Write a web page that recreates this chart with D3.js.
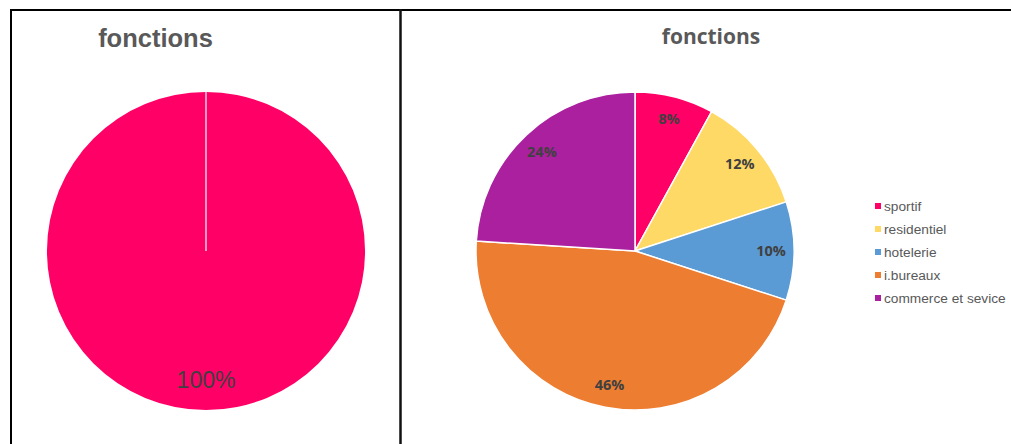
<!DOCTYPE html>
<html><head><meta charset="utf-8">
<script src="https://cdn.jsdelivr.net/npm/d3@7"></script>
<style>body{margin:0;background:#fff;}svg{display:block;}</style>
</head><body>
<script>
const titleLeft = "fonctions";
const titleRight = "fonctions";
const leftCategories = ["fonctions"];
const leftValues = [100];
const categories = ["sportif", "residentiel", "hotelerie", "i.bureaux", "commerce et sevice"];
const values = [8, 12, 10, 46, 24];
const colors = ["#FF0066", "#FFD966", "#5B9BD5", "#ED7D31", "#AB209F"];

const W = 1011, H = 444;
const svg = d3.select("body").append("svg").attr("width", W).attr("height", H);

// frames
svg.append("line").attr("x1", 10).attr("x2", W).attr("y1", 10).attr("y2", 10).attr("stroke", "#000").attr("stroke-width", 2);
svg.append("line").attr("x1", 11).attr("x2", 11).attr("y1", 9).attr("y2", H).attr("stroke", "#000").attr("stroke-width", 2);
svg.append("line").attr("x1", 400.5).attr("x2", 400.5).attr("y1", 9).attr("y2", H).attr("stroke", "#111").attr("stroke-width", 2.5);

// left pie
const total = d3.sum(leftValues);
const gL = svg.append("g").attr("transform", "translate(206,251)");
const rL = 159;
const pieL = d3.pie().sort(null).value(d => d);
const arcL = d3.arc().innerRadius(0).outerRadius(rL);
gL.selectAll("path").data(pieL(leftValues)).join("path").attr("d", arcL).attr("fill", "#FF0066");
gL.append("line").attr("x1", 0).attr("x2", 0).attr("y1", -rL).attr("y2", 0).attr("stroke", "#fff").attr("stroke-width", 1.5).attr("opacity", 0.8);
gL.append("text").attr("x", 0).attr("y", 129).attr("dy", "0.35em").attr("text-anchor", "middle")
  .attr("font-family", "Liberation Sans, Arial, sans-serif").attr("font-size", 23).attr("fill", "#404040")
  .text(Math.round(leftValues[0] / total * 100) + "%");
svg.append("text").attr("x", 155.5).attr("y", 38).attr("dy", "0.35em").attr("text-anchor", "middle")
  .attr("font-family", "Liberation Sans, Arial, sans-serif").attr("font-size", 25.5).attr("font-weight", "bold").attr("fill", "#595959")
  .text(titleLeft);

// right pie
const gR = svg.append("g").attr("transform", "translate(635,251)");
const r = 159;
const pie = d3.pie().sort(null).value(d => d);
const arc = d3.arc().innerRadius(0).outerRadius(r);
const labelArc = d3.arc().innerRadius(136).outerRadius(136);
const sum = d3.sum(values);
const arcs = pie(values);
gR.selectAll("path").data(arcs).join("path").attr("d", arc).attr("fill", (d, i) => colors[i])
  .attr("stroke", "#fff").attr("stroke-width", 1.5);
gR.selectAll("text").data(arcs).join("text")
  .attr("transform", d => `translate(${labelArc.centroid(d)})`)
  .attr("text-anchor", "middle").attr("dy", "0.35em")
  .attr("font-family", "Open Sans, Lato, sans-serif").attr("font-size", 14.5).attr("font-weight", "bold").attr("fill", "#404040")
  .text(d => Math.round(d.data / sum * 100) + "%");
svg.append("text").attr("x", 711).attr("y", 37).attr("dy", "0.35em").attr("text-anchor", "middle")
  .attr("font-family", "Open Sans, Lato, sans-serif").attr("font-size", 21).attr("font-weight", "bold").attr("fill", "#595959")
  .text(titleRight);

// legend
const lg = svg.append("g");
categories.forEach((c, i) => {
  const y = 206 + i * 23;
  lg.append("rect").attr("x", 875).attr("y", y - 3).attr("width", 6).attr("height", 6).attr("fill", colors[i]);
  lg.append("text").attr("x", 884).attr("y", y).attr("dy", "0.35em")
    .attr("font-family", "Liberation Sans, Arial, sans-serif").attr("font-size", 13.7).attr("fill", "#595959").text(c);
});
</script>
</body></html>
